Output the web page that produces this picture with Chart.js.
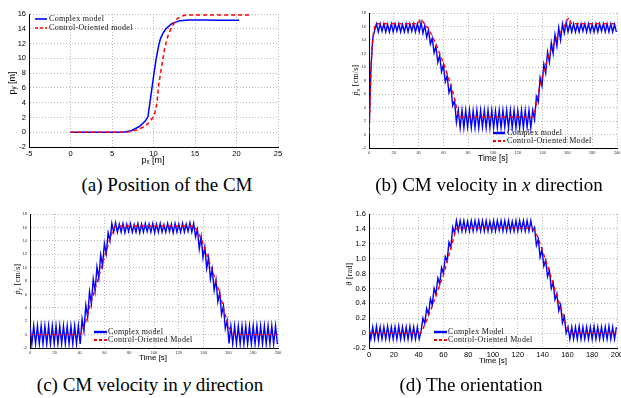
<!DOCTYPE html>
<html><head><meta charset="utf-8">
<script src="https://cdn.jsdelivr.net/npm/chart.js@4.4.1/dist/chart.umd.min.js"></script>
<style>
html,body{margin:0;padding:0;background:#fff;overflow:hidden;}
#wrap{position:relative;width:621px;height:398px;overflow:hidden;background:#fff;}
canvas{position:absolute;}
.t{position:absolute;white-space:nowrap;line-height:1;color:#000;transform:translate(-50%,-50%);}
.rot{transform:translate(-50%,-50%) rotate(-90deg);}
.sans{font-family:'Liberation Sans',Arial,sans-serif;}
.serif{font-family:'Liberation Serif','Times New Roman',serif;}
.cap{font-family:'Liberation Serif','Times New Roman',serif;font-size:19px;}
.leg{position:absolute;white-space:nowrap;line-height:1;font-family:'Liberation Serif',serif;font-size:8px;letter-spacing:0.3px;color:#111;transform:translateY(-50%);}
.key{position:absolute;}
sub{font-size:70%;vertical-align:-0.25em;line-height:0;}
</style></head>
<body>
<div id="wrap">
<canvas id="cA"></canvas><canvas id="cB"></canvas><canvas id="cC"></canvas><canvas id="cD"></canvas>

<!-- axis titles -->
<div class="t rot sans" style="left:12px;top:83px;font-size:9px;">p<sub>y</sub> [m]</div>
<div class="t sans" style="left:153px;top:160px;font-size:9px;">p<sub>x</sub> [m]</div>
<div class="t rot serif" style="left:356px;top:80px;font-size:7.5px;letter-spacing:0.4px;"><i>ṗ<sub>x</sub></i> [cm/s]</div>
<div class="t sans" style="left:493px;top:158px;font-size:8.5px;">Time [s]</div>
<div class="t rot serif" style="left:18px;top:279px;font-size:7.5px;letter-spacing:0.4px;"><i>ṗ<sub>y</sub></i> [cm/s]</div>
<div class="t sans" style="left:153px;top:358px;font-size:8px;">Time [s]</div>
<div class="t rot serif" style="left:350px;top:274px;font-size:7.5px;letter-spacing:0.4px;"><i>θ</i> [rad]</div>
<div class="t sans" style="left:493px;top:361px;font-size:8px;">Time [s]</div>

<!-- legends -->
<svg class="key" style="left:35px;top:15px" width="13" height="17"><line x1="0" y1="4" x2="12" y2="4" stroke="#0000ff" stroke-width="1.6"/><line x1="0" y1="13" x2="12" y2="13" stroke="#ff0000" stroke-width="1.6" stroke-dasharray="3,2"/></svg>
<div class="leg" style="left:49px;top:19px;">Complex model</div>
<div class="leg" style="left:49px;top:28px;">Control-Oriented model</div>

<svg class="key" style="left:493px;top:129px" width="13" height="17"><line x1="0" y1="4" x2="12" y2="4" stroke="#0000ff" stroke-width="2.4"/><line x1="0" y1="12" x2="12" y2="12" stroke="#ff0000" stroke-width="2" stroke-dasharray="3,2"/></svg>
<div class="leg" style="left:507px;top:133px;">Complex model</div>
<div class="leg" style="left:507px;top:141px;">Control-Oriented Model</div>

<svg class="key" style="left:94px;top:328px" width="14" height="17"><line x1="0" y1="4" x2="13" y2="4" stroke="#0000ff" stroke-width="2.4"/><line x1="0" y1="12" x2="13" y2="12" stroke="#ff0000" stroke-width="2" stroke-dasharray="3,2"/></svg>
<div class="leg" style="left:108px;top:332px;">Complex model</div>
<div class="leg" style="left:108px;top:340px;">Control-Oriented Model</div>

<svg class="key" style="left:434px;top:328px" width="14" height="17"><line x1="0" y1="4" x2="13" y2="4" stroke="#0000ff" stroke-width="2.4"/><line x1="0" y1="12" x2="13" y2="12" stroke="#ff0000" stroke-width="2" stroke-dasharray="3,2"/></svg>
<div class="leg" style="left:448px;top:332px;">Complex Model</div>
<div class="leg" style="left:448px;top:340px;">Control-Oriented Model</div>

<!-- captions -->
<div class="t cap" style="left:167px;top:184px;">(a) Position of the CM</div>
<div class="t cap" style="left:489px;top:184px;">(b) CM velocity in <i>x</i> direction</div>
<div class="t cap" style="left:150px;top:384px;">(c) CM velocity in <i>y</i> direction</div>
<div class="t cap" style="left:471px;top:384px;">(d) The orientation</div>
</div>

<script>
// ---------- (a) Position of the CM ----------
const posComplexX = [0,2,4,6,6.5,7.3,8.3,9,9.33,9.73,10.0,10.3,10.6,10.85,11.2,11.5,12.2,13.2,14.2,16,18,20.3];
const posComplexY = [0,0,0,0,0.02,0.2,0.77,1.5,2.1,5.3,7.5,9.8,11.6,12.7,13.5,14.0,14.7,15.1,15.2,15.2,15.15,15.15];
const posControlX = [0,2,4,6,7,8,8.8,9.5,10.1,10.4,10.65,11.0,11.3,11.7,12.1,12.5,12.9,13.4,13.9,15,18,21.5];
const posControlY = [0,0,0,0,0.05,0.3,0.7,1.3,2.3,3.8,6.6,9.0,11.1,12.9,14.05,14.8,15.4,15.7,15.85,15.85,15.85,15.85];

// ---------- shared sample times of the complex model [s] ----------
const timeSamples = [
  0,1.5,3,4.5,6,7.5,9,10.5,12,13.5,
  15,16.5,18,19.5,21,22.5,24,25.5,27,28.5,
  30,31.5,33,34.5,36,37.5,39,40.5,42,43.5,
  45,46.5,48,49.5,51,52.5,54,55.5,57,58.5,
  60,61.5,63,64.5,66,67.5,69,70.5,72,73.5,
  75,76.5,78,79.5,81,82.5,84,85.5,87,88.5,
  90,91.5,93,94.5,96,97.5,99,100.5,102,103.5,
  105,106.5,108,109.5,111,112.5,114,115.5,117,118.5,
  120,121.5,123,124.5,126,127.5,129,130.5,132,133.5,
  135,136.5,138,139.5,141,142.5,144,145.5,147,148.5,
  150,151.5,153,154.5,156,157.5,159,160.5,162,163.5,
  165,166.5,168,169.5,171,172.5,174,175.5,177,178.5,
  180,181.5,183,184.5,186,187.5,189,190.5,192,193.5,
  195,196.5,198,199.5];

// ---------- (b) CM velocity in x ----------
const velXComplex = [
  0,9.5,14.2,15.4,16.4,15.2,16.4,15.3,16.4,15.2,
  16.3,15.2,16.4,15.2,16.4,15.3,16.4,15.2,16.3,15.2,
  16.4,15.2,16.4,15.3,16.4,15.2,16.4,15.2,16.6,15.0,
  16.2,14.4,15.5,13.4,14.3,12.1,13.1,10.7,11.7,9.3,
  10.3,7.8,8.7,6.2,7.1,4.3,5.0,1.8,3.6,1.0,
  3.6,1.0,3.6,1.1,3.6,1.0,3.5,1.0,3.6,1.0,
  3.6,1.1,3.6,1.0,3.6,1.0,3.6,1.0,3.5,1.0,
  3.6,1.0,3.6,1.1,3.6,1.0,3.6,1.0,3.6,1.0,
  3.5,1.0,3.6,1.0,3.6,1.1,3.6,1.0,3.6,2.2,
  5.6,4.8,8.4,7.2,10.4,9.1,12.2,10.7,13.6,12.0,
  14.8,13.1,15.8,14.0,16.4,15.0,16.6,15.2,16.4,15.2,
  16.4,15.2,16.3,15.2,16.4,15.3,16.4,15.2,16.4,15.2,
  16.3,15.2,16.4,15.2,16.4,15.3,16.4,15.2,16.4,15.2,
  16.4,15.2,16.3,15.2];
const velXControlT = [0,0.8,1.6,2.5,3.5,5,6,40,41,43,46,48,51,54,57,60,63,66,69,71,72.5,74,132,133,135,138,141,144,147,150,153,156,158,160,161,163,165,200];
const velXControl  = [0,4,10,13,15,16.2,16.4,16.4,17.1,16.8,16.1,15.7,14.6,13.4,12.0,10.6,9.0,7.4,5.3,3.6,2.7,2.6,2.6,2.8,4.6,7.4,9.4,11.2,12.6,13.8,14.8,15.6,16.2,17.0,17.3,16.5,16.4,16.4];

// ---------- (c) CM velocity in y ----------
const velYComplex = [
  1.3,-1.4,1.3,-1.4,1.3,-1.4,1.3,-1.4,1.3,-1.4,
  1.3,-1.4,1.3,-1.4,1.3,-1.4,1.3,-1.4,1.3,-1.4,
  1.3,-1.4,1.3,-1.4,1.3,-1.4,1.3,-1.4,2.3,0.5,
  4.4,2.6,6.4,4.6,8.3,6.5,10.1,8.4,11.9,10.3,
  13.6,12.1,15.2,14.0,16.6,15.3,16.7,15.3,16.5,15.3,
  16.6,15.2,16.5,15.4,16.6,15.3,16.4,15.3,16.6,15.2,
  16.5,15.3,16.6,15.4,16.5,15.3,16.6,15.2,16.5,15.3,
  16.6,15.3,16.4,15.3,16.6,15.4,16.5,15.2,16.6,15.3,
  16.5,15.3,16.6,15.3,16.5,15.4,16.7,15.3,16.6,14.6,
  15.7,12.8,14.6,11.5,13.1,9.9,11.5,8.3,9.8,6.6,
  8.2,4.9,6.3,3.0,4.3,0.9,2.1,-1.3,1.3,-1.4,
  1.3,-1.4,1.3,-1.4,1.3,-1.4,1.3,-1.4,1.3,-1.4,
  1.3,-1.4,1.3,-1.4,1.3,-1.4,1.3,-1.4,1.3,-1.4,
  1.3,-1.4,1.3,-1.4];
const velYControlT = [0,40,42,45,48,52,56,60,64,67,69,132,134,138,142,146,150,154,157,160,163,166,200];
const velYControl  = [0,0,0.5,2,4,6.5,9,11.5,14,15.7,16.2,16.2,15.8,14.3,12.3,10.1,7.9,5.4,3.3,1.2,0.3,0,0];

// ---------- (d) orientation ----------
const thetaComplex = [
  0.08,-0.08,0.08,-0.08,0.09,-0.08,0.08,-0.08,0.08,-0.08,
  0.09,-0.08,0.08,-0.08,0.08,-0.08,0.09,-0.08,0.08,-0.08,
  0.08,-0.08,0.09,-0.08,0.08,-0.08,0.08,-0.08,0.03,0.2,
  0.13,0.33,0.25,0.46,0.38,0.6,0.52,0.74,0.66,0.88,
  0.8,1.03,0.97,1.22,1.15,1.42,1.34,1.51,1.37,1.51,
  1.37,1.51,1.37,1.5,1.37,1.51,1.37,1.51,1.38,1.51,
  1.37,1.51,1.37,1.51,1.37,1.5,1.37,1.51,1.37,1.51,
  1.38,1.51,1.37,1.51,1.37,1.51,1.37,1.5,1.37,1.51,
  1.37,1.51,1.38,1.51,1.37,1.51,1.37,1.51,1.37,1.42,
  1.18,1.26,1.02,1.12,0.9,0.98,0.76,0.84,0.6,0.68,
  0.45,0.53,0.3,0.38,0.14,0.22,0.0,0.08,-0.08,0.08,
  -0.08,0.08,-0.08,0.09,-0.08,0.08,-0.08,0.08,-0.08,0.08,
  -0.08,0.09,-0.08,0.08,-0.08,0.08,-0.08,0.08,-0.08,0.09,
  -0.08,0.08,-0.08,0.08];
const thetaControlT = [0,41,43,46,50,55,60,64,67,69,71,132,134,137,140,144,148,152,156,158,160,162,164,200];
const thetaControl  = [0,0,0.04,0.15,0.32,0.55,0.78,1.02,1.2,1.33,1.41,1.41,1.37,1.25,1.1,0.9,0.69,0.48,0.27,0.16,0.06,0.01,0,0];

// ---------- axis ranges [min, max, step] ----------
const axisA = {x:[-5,25,5], y:[-2,16,2]};
const axisB = {x:[0,200,20], y:[-2,18,2]};
const axisC = {x:[0,200,20], y:[-2,18,2]};
const axisD = {x:[0,200,20], y:[-0.2,1.6,0.2]};

const BLUE = '#0000ff', RED = '#ff0000';

function series(xs, ys, color, width, dash, order) {
  return {data: xs.map((x, i) => ({x: x, y: ys[i]})), borderColor: color, borderWidth: width,
          borderDash: dash, pointRadius: 0, tension: 0, fill: false, order: order};
}

function scale(r, fs, col, fit, isX) {
  return {
    type: 'linear', position: isX ? 'bottom' : 'left', min: r[0], max: r[1],
    ticks: {stepSize: r[2], autoSkip: false, maxRotation: 0, padding: isX ? 2 : 3,
            font: {family: "'Liberation Sans', Arial, sans-serif", size: fs}, color: col},
    grid: {color: '#b5b5b5', lineWidth: 1, drawTicks: false},
    border: {display: true, color: '#000', width: 1, dash: [1, 2]},
    afterFit: s => { if (isX) s.height = fit; else s.width = fit; }
  };
}

function build(id, left, top, w, h, pad, yW, xH, ax, fs, col, datasets) {
  const c = document.getElementById(id);
  c.width = w; c.height = h;
  c.style.left = left + 'px'; c.style.top = top + 'px';
  c.style.width = w + 'px'; c.style.height = h + 'px';
  new Chart(c, {
    type: 'line',
    data: {datasets: datasets},
    options: {
      responsive: false, animation: false, devicePixelRatio: 1, events: [],
      layout: {padding: pad},
      plugins: {legend: {display: false}, tooltip: {enabled: false}},
      scales: {x: scale(ax.x, fs, col, xH, true), y: scale(ax.y, fs, col, yW, false)}
    }
  });
}

build('cA', 0, 0, 310, 168, {top: 14, right: 32, left: 0, bottom: 0}, 29, 21, axisA, 7.5, '#000', [
  series(posComplexX, posComplexY, BLUE, 1.5, [], 1),
  series(posControlX, posControlY, RED, 1.5, [4, 3], 0)
]);
build('cB', 310, 0, 325, 168, {top: 13, right: 18, left: 0, bottom: 0}, 59, 20, axisB, 4, '#333', [
  series(timeSamples, velXComplex, BLUE, 1.4, [], 1),
  series(velXControlT, velXControl, RED, 1.4, [4, 3], 0)
]);
build('cC', 0, 200, 310, 160, {top: 14, right: 32, left: 0, bottom: 0}, 30, 12, axisC, 4, '#333', [
  series(timeSamples, velYComplex, BLUE, 1.4, [], 1),
  series(velYControlT, velYControl, RED, 1.4, [4, 3], 0)
]);
build('cD', 310, 200, 325, 160, {top: 14, right: 18, left: 0, bottom: 0}, 59, 12, axisD, 7.5, '#000', [
  series(timeSamples, thetaComplex, BLUE, 1.4, [], 1),
  series(thetaControlT, thetaControl, RED, 1.4, [4, 3], 0)
]);
</script>
</body></html>
